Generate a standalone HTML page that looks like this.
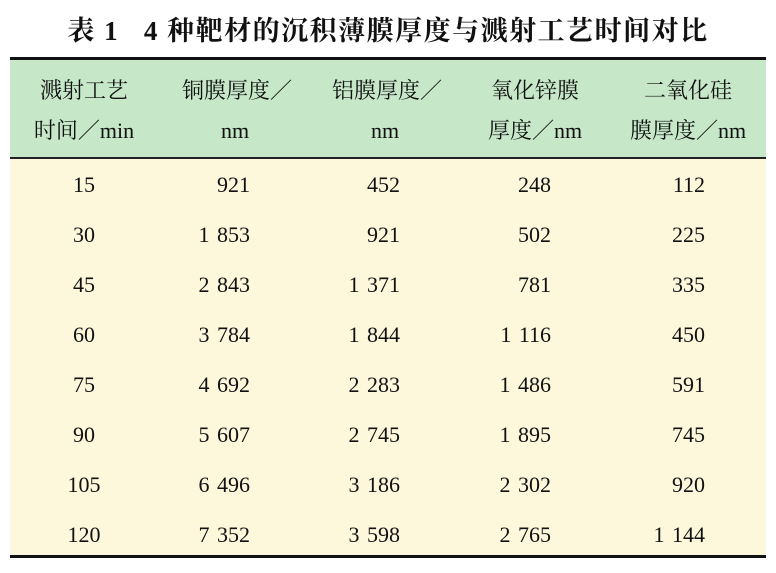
<!DOCTYPE html>
<html><head><meta charset="utf-8"><style>
body{margin:0;width:776px;height:573px;background:#fff;position:relative;overflow:hidden;font-family:"Liberation Serif","Noto Serif CJK SC",serif;color:#111}
.t{position:absolute;white-space:nowrap;font-size:22px;line-height:1;word-spacing:2px}
.title{position:absolute;top:9px;left:0;width:776px;text-align:center;font-size:27px;letter-spacing:1.5px;font-weight:bold;font-family:"Liberation Serif","Noto Serif CJK SC",serif}
.c{transform:translateX(-50%)}
.r{transform:translateX(-100%)}
</style></head><body>
<div class="title">表 1&nbsp;&nbsp;&nbsp;4 种靶材的沉积薄膜厚度与溅射工艺时间对比</div>
<div style="position:absolute;left:10px;top:60px;width:756px;height:98px;background:#c6e8c9"></div>
<div style="position:absolute;left:10px;top:159px;width:756px;height:396px;background:#fdf7dc"></div>
<div style="position:absolute;left:10px;top:57px;width:756px;height:3px;background:#111"></div>
<div style="position:absolute;left:10px;top:157px;width:756px;height:2px;background:#222"></div>
<div style="position:absolute;left:10px;top:555px;width:756px;height:3px;background:#111"></div>
<div class="t c" style="left:84px;top:80px">溅射工艺</div>
<div class="t c" style="left:84px;top:120px">时间／min</div>
<div class="t c" style="left:237px;top:80px">铜膜厚度／</div>
<div class="t c" style="left:235px;top:120px">nm</div>
<div class="t c" style="left:387px;top:80px">铝膜厚度／</div>
<div class="t c" style="left:385px;top:120px">nm</div>
<div class="t c" style="left:535px;top:80px">氧化锌膜</div>
<div class="t c" style="left:535px;top:120px">厚度／nm</div>
<div class="t c" style="left:688px;top:80px">二氧化硅</div>
<div class="t c" style="left:688px;top:120px">膜厚度／nm</div>
<div id="rows"></div>
<script>
var d=[["15","921","452","248","112"],["30","1 853","921","502","225"],["45","2 843","1 371","781","335"],["60","3 784","1 844","1 116","450"],["75","4 692","2 283","1 486","591"],["90","5 607","2 745","1 895","745"],["105","6 496","3 186","2 302","920"],["120","7 352","3 598","2 765","1 144"]];
var xs=[250,400,551,705],h="";
d.forEach(function(r,i){var y=174+i*50;
h+='<div class="t c" style="left:84px;top:'+y+'px">'+r[0]+'</div>';
for(var j=1;j<5;j++)h+='<div class="t r" style="left:'+xs[j-1]+'px;top:'+y+'px">'+r[j]+'</div>';});
document.getElementById("rows").innerHTML=h;
</script>
</body></html>
